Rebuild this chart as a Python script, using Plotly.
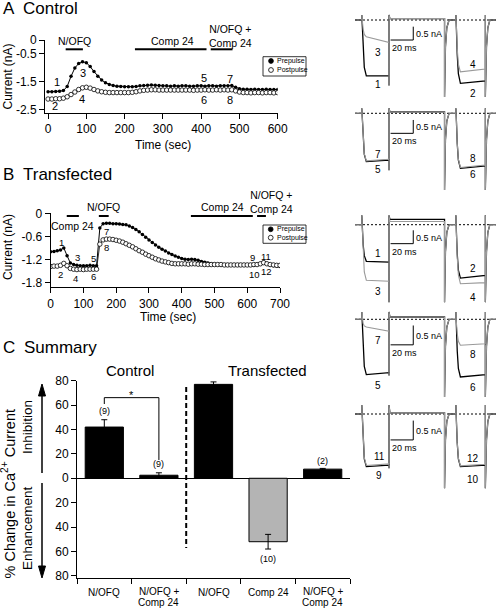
import plotly.graph_objects as go

# ---------------- Panel A data (Control) ----------------
TIME_A = list(range(0, 601, 10))
PRE_A = [
    -1.85, -1.85, -1.84, -1.83, -1.81,
    -1.66, -1.30, -1.00, -0.84, -0.78,
    -0.81, -0.95, -1.13, -1.30, -1.43,
    -1.53, -1.59, -1.63, -1.65, -1.66,
    -1.67, -1.67, -1.67, -1.66, -1.64,
    -1.63, -1.62, -1.61, -1.62, -1.63,
    -1.64, -1.64, -1.65, -1.64, -1.65,
    -1.64, -1.64, -1.65, -1.65, -1.64,
    -1.64, -1.65, -1.64, -1.64, -1.65,
    -1.64, -1.64, -1.64, -1.63, -1.69,
    -1.74, -1.76, -1.76, -1.77, -1.76,
    -1.77, -1.77, -1.76, -1.77, -1.77,
    -1.77]
POST_A = [
    -2.11, -2.11, -2.10, -2.10, -2.08,
    -2.03, -1.95, -1.86, -1.77, -1.71,
    -1.69, -1.72, -1.77, -1.82, -1.85,
    -1.87, -1.88, -1.88, -1.88, -1.88,
    -1.88, -1.88, -1.87, -1.85, -1.82,
    -1.80, -1.79, -1.78, -1.78, -1.79,
    -1.79, -1.79, -1.79, -1.79, -1.79,
    -1.79, -1.79, -1.79, -1.80, -1.79,
    -1.79, -1.78, -1.79, -1.79, -1.78,
    -1.79, -1.78, -1.79, -1.78, -1.82,
    -1.86, -1.88, -1.88, -1.89, -1.88,
    -1.88, -1.89, -1.88, -1.88, -1.89,
    -1.88]
A_TICKS_X = [0, 100, 200, 300, 400, 500, 600]
A_TICKS_Y = [0, -0.5, -1.5, -2.5]

# ---------------- Panel B data (Transfected) ----------------
TIME_B = list(range(0, 701, 10))
PRE_B = [
    -1.00, -0.99, -0.97, -0.95, -0.90,
    -1.10, -1.29, -1.33, -1.35, -1.36,
    -1.36, -1.36, -1.35, -1.36, -1.36,
    -0.38, -0.27, -0.26, -0.26, -0.27,
    -0.27, -0.28, -0.29, -0.30, -0.33,
    -0.37, -0.42, -0.48, -0.55, -0.62,
    -0.69, -0.76, -0.82, -0.88, -0.93,
    -0.98, -1.03, -1.07, -1.11, -1.14,
    -1.17, -1.19, -1.20, -1.19, -1.20,
    -1.22, -1.25, -1.27, -1.29, -1.31,
    -1.32, -1.33, -1.34, -1.35, -1.35,
    -1.35, -1.35, -1.35, -1.35, -1.35,
    -1.35, -1.35, -1.35, -1.33, -1.30,
    -1.27, -1.30, -1.34, -1.36, -1.37,
    -1.38]
POST_B = [
    -1.38, -1.37, -1.37, -1.35, -1.30,
    -1.36, -1.43, -1.45, -1.46, -1.45,
    -1.46, -1.45, -1.45, -1.45, -1.45,
    -0.80, -0.69, -0.67, -0.67, -0.68,
    -0.70, -0.72, -0.75, -0.79, -0.83,
    -0.87, -0.92, -0.97, -1.01, -1.06,
    -1.10, -1.14, -1.18, -1.21, -1.24,
    -1.26, -1.28, -1.30, -1.31, -1.31,
    -1.31, -1.31, -1.32, -1.31, -1.31,
    -1.32, -1.32, -1.33, -1.33, -1.33,
    -1.33, -1.33, -1.33, -1.34, -1.34,
    -1.34, -1.34, -1.34, -1.34, -1.34,
    -1.34, -1.34, -1.33, -1.33, -1.31,
    -1.28, -1.31, -1.33, -1.34, -1.35,
    -1.35]
B_TICKS_X = [0, 100, 200, 300, 400, 500, 600, 700]
B_TICKS_Y = [0, -0.6, -1.2, -1.8]

# ---------------- Panel C data (Summary) ----------------
C_LABELS = [["N/OFQ"], ["N/OFQ +", "Comp 24"], ["N/OFQ"], ["Comp 24"], ["N/OFQ +", "Comp 24"]]
C_VALUES = [42, 2.5, 77, -52, 7.5]
C_ERRORS = [6, 2, 2, 6, 0.6]
C_COLORS = ["black", "black", "black", "#b4b4b4", "black"]
C_N = ["(9)", "(9)", "(9)", "(10)", "(2)"]
C_N_POS = [55.2, 11.5, 85.5, -66.2, 14.2]
C_TICKS = [80, 60, 40, 20, 0, -20, -40, -60, -80]
C_TICKTEXT = ["80", "60", "40", "20", "0", "20", "40", "60", "80"]

# ---------------- Inset current records (time ms, current nA) ----------------
T_MS = [0, 6, 6, 6.5, 7.2, 8.2, 10, 30, 30, 30, 30.8, 79, 79, 79.8, 81, 83,
        89, 89, 89.5, 90.2, 91.2, 93, 115, 115, 115, 116, 117.2, 119, 124.4]
INS1_BLACK = [0, 0, 0.19, -0.31, -1.15, -1.78, -2.09, -2.09, -2.45, 0.19, 0.05, 0.05, -2.88, -1.01, -0.29, 0,
              0, 0.19, -0.36, -1.30, -2.01, -2.37, -2.28, 0.19, -2.88, -1.01, -0.29, 0, 0]
INS1_GRAY = [0, 0, 0.19, -0.09, -0.35, -0.54, -0.63, -0.84, -2.45, 0.19, 0.05, 0.05, -2.88, -1.01, -0.29, 0,
             0, 0.19, -0.29, -1.07, -1.65, -1.94, -1.84, 0.19, -2.88, -1.01, -0.29, 0, 0]
INS2_BLACK = [0, 0, 0.19, -0.27, -1.00, -1.54, -1.81, -1.75, -2.13, 0.19, 0.05, 0.05, -2.87, -1.00, -0.29, 0,
              0, 0.19, -0.31, -1.13, -1.75, -2.06, -1.97, 0.19, -2.87, -1.00, -0.29, 0, 0]
INS2_GRAY = [0, 0, 0.19, -0.27, -0.98, -1.51, -1.78, -1.72, -2.13, 0.19, 0.05, 0.05, -2.87, -1.00, -0.29, 0,
             0, 0.19, -0.30, -1.12, -1.73, -2.03, -1.94, 0.19, -2.87, -1.00, -0.29, 0, 0]
INS3_BLACK = [0, 0, 0.35, -0.21, -0.75, -1.16, -1.37, -1.40, -2.90, 0.35, 0.20, 0.20, -2.90, -1.02, -0.29, 0,
              0, 0.35, -0.30, -1.10, -1.70, -2.00, -1.90, 0.35, -2.90, -1.02, -0.29, 0, 0]
INS3_GRAY = [0, 0, 0.35, -0.31, -1.14, -1.77, -2.08, -2.12, -2.90, 0.35, 0.12, 0.12, -2.90, -1.02, -0.29, 0,
             0, 0.35, -0.33, -1.22, -1.88, -2.21, -2.17, 0.35, -2.90, -1.02, -0.29, 0, 0]
INS4_BLACK = [0, 0, 0.19, -0.21, -0.79, -1.22, -1.43, -1.38, -1.45, 0.19, 0.06, 0.06, -2.01, -0.70, -0.20, 0,
              0, 0.19, -0.22, -0.82, -1.27, -1.49, -1.43, 0.19, -2.01, -0.70, -0.20, 0, 0]
INS4_GRAY = [0, 0, 0.19, -0.03, -0.11, -0.17, -0.20, -0.31, -1.45, 0.19, 0.06, 0.06, -2.01, -0.70, -0.20, 0,
             0, 0.19, -0.10, -0.37, -0.57, -0.67, -0.63, 0.19, -2.01, -0.70, -0.20, 0, 0]
INS5_BLACK = [0, 0, 0.23, -0.20, -0.75, -1.16, -1.36, -1.32, -1.40, 0.23, 0.03, 0.03, -1.92, -0.67, -0.19, 0,
              0, 0.23, -0.20, -0.75, -1.16, -1.36, -1.32, 0.23, -1.92, -0.67, -0.19, 0, 0]
INS5_GRAY = [0, 0, 0.23, -0.20, -0.73, -1.13, -1.33, -1.29, -1.40, 0.23, 0.03, 0.03, -1.92, -0.67, -0.19, 0,
             0, 0.23, -0.20, -0.74, -1.14, -1.34, -1.30, 0.23, -1.92, -0.67, -0.19, 0, 0]

# ---------------- geometry helpers ----------------
W, H = 496, 608
FONT = "Liberation Sans, Arial, sans-serif"


def PX(x):
    return x / W


def PY(y):
    return 1 - y / H


fig = go.Figure()
annotations = []
shapes = []


def ann(text, x, y, size=11, xref="paper", yref="paper", xanchor="center",
        yanchor="middle", angle=0, ypaper_raw=False):
    if xref == "paper":
        x = PX(x)
    if yref == "paper" and not ypaper_raw:
        y = PY(y)
    annotations.append(dict(text=text, x=x, y=y, xref=xref, yref=yref,
                            xanchor=xanchor, yanchor=yanchor, showarrow=False,
                            textangle=angle, borderpad=0,
                            font=dict(size=size, color="black", family=FONT)))


AXIS_COMMON = dict(showline=True, linecolor="black", linewidth=1, ticks="outside",
                   ticklen=5, tickcolor="black", tickwidth=1, showgrid=False,
                   zeroline=False, tickfont=dict(size=12, color="black", family=FONT))

# ---------------- Panel A ----------------
fig.add_trace(go.Scatter(x=TIME_A, y=PRE_A, xaxis="x", yaxis="y", mode="lines+markers",
                         line=dict(color="black", width=1),
                         marker=dict(symbol="circle", size=3.5, color="black"), showlegend=False))
fig.add_trace(go.Scatter(x=TIME_A, y=POST_A, xaxis="x", yaxis="y", mode="lines+markers",
                         line=dict(color="black", width=0.8),
                         marker=dict(symbol="circle", size=4.5, color="white",
                                     line=dict(color="black", width=0.8)), showlegend=False))

# ---------------- Panel B ----------------
fig.add_trace(go.Scatter(x=TIME_B, y=PRE_B, xaxis="x2", yaxis="y2", mode="lines+markers",
                         line=dict(color="black", width=1),
                         marker=dict(symbol="circle", size=3.5, color="black"), showlegend=False))
fig.add_trace(go.Scatter(x=TIME_B, y=POST_B, xaxis="x2", yaxis="y2", mode="lines+markers",
                         line=dict(color="black", width=0.8),
                         marker=dict(symbol="circle", size=4.5, color="white",
                                     line=dict(color="black", width=0.8)), showlegend=False))

# ---------------- Panel C ----------------
C_X = [i + 0.5 for i in range(len(C_VALUES))]
fig.add_trace(go.Bar(x=C_X, y=C_VALUES, width=0.7, xaxis="x3", yaxis="y3",
                     marker=dict(color=C_COLORS, line=dict(color="black", width=1)),
                     error_y=dict(type="data", array=C_ERRORS, color="black", thickness=1, width=3),
                     showlegend=False))

# ---------------- Insets ----------------
INSET_GROUPS = [
    (INS1_BLACK, INS1_GRAY, 20.0, 26.7),
    (INS2_BLACK, INS2_GRAY, 113.3, 26.7),
    (INS3_BLACK, INS3_GRAY, 224.7, 26.7),
    (INS4_BLACK, INS4_GRAY, 319.3, 38.7),
    (INS5_BLACK, INS5_GRAY, 414.0, 38.7),
]
INSET_LABELS = [
    [("3", 20.6, -1.21), ("1", 20.6, -2.43), ("4", 104.4, -1.66), ("2", 104.4, -2.75)],
    [("7", 20.6, -1.54), ("5", 20.6, -2.09), ("8", 104.4, -1.71), ("6", 104.4, -2.28)],
    [("1", 20.6, -1.09), ("3", 20.6, -2.52), ("2", 104.4, -1.65), ("4", 104.4, -2.71)],
    [("7", 20.6, -0.54), ("5", 20.6, -1.71), ("8", 104.4, -0.91), ("6", 104.4, -1.77)],
    [("11", 21.5, -1.10), ("9", 21.5, -1.60), ("12", 104.4, -1.14), ("10", 104.4, -1.69)],
]
SCALE_BOTTOM = [-0.75, -0.75, -0.71, -0.66, -0.67]

layout_axes = {}
for g, (blk, gry, base, s) in enumerate(INSET_GROUPS):
    n = 4 + g
    xa, ya = f"x{n}", f"y{n}"
    fig.add_trace(go.Scatter(x=[T_MS[0], T_MS[-1]], y=[0, 0], xaxis=xa, yaxis=ya, mode="lines",
                             line=dict(color="black", width=1, dash="2px,2px"), showlegend=False))
    fig.add_trace(go.Scatter(x=T_MS, y=blk, xaxis=xa, yaxis=ya, mode="lines",
                             line=dict(color="black", width=1.3), showlegend=False))
    fig.add_trace(go.Scatter(x=T_MS, y=gry, xaxis=xa, yaxis=ya, mode="lines",
                             line=dict(color="#9a9a9a", width=1.1), showlegend=False))
    layout_axes[f"xaxis{n}"] = dict(domain=[PX(355), 1.0], range=[0, 124.4], anchor=ya, visible=False)
    layout_axes[f"yaxis{n}"] = dict(domain=[PY(base + 80), PY(base - 10)], range=[-80 / s, 10 / s],
                                    anchor=xa, visible=False)
    yb = SCALE_BOTTOM[g]
    shapes.append(dict(type="line", xref=xa, yref=ya, x0=51.4, x1=51.4, y0=yb, y1=yb + 0.5,
                       line=dict(color="black", width=1)))
    shapes.append(dict(type="line", xref=xa, yref=ya, x0=31.4, x1=51.4, y0=yb, y1=yb,
                       line=dict(color="black", width=1)))
    ann("0.5 nA", 52.9, yb + 0.22, size=9, xref=xa, yref=ya, xanchor="left")
    ann("20 ms", 31.4, yb - 8 / s, size=9, xref=xa, yref=ya, xanchor="left")
    for (txt, tx, ty) in INSET_LABELS[g]:
        ann(txt, tx, ty, size=10, xref=xa, yref=ya)

# ---------------- Panel titles ----------------
ann("A", 2, 8.5, size=17, xanchor="left")
ann("Control", 22, 8.5, size=17, xanchor="left")
ann("B", 2, 175, size=17, xanchor="left")
ann("Transfected", 22, 175, size=17, xanchor="left")
ann("C", 2, 347, size=17, xanchor="left")
ann("Summary", 23, 347, size=17, xanchor="left")

# ---------------- Panel A decorations ----------------
ann("Current (nA)", 7.5, 77, size=12, angle=-90)
ann("Time (sec)", 163, 145, size=12)
for (t0, t1) in [(46, 91), (227, 414), (425, 482)]:
    shapes.append(dict(type="line", xref="x", yref="paper", x0=t0, x1=t1, y0=PY(49.3), y1=PY(49.3),
                       line=dict(color="black", width=2)))
for (txt, tx, yy) in [("N/OFQ", 70, 41.5), ("Comp 24", 326, 41.5), ("N/OFQ +<br>Comp 24", 477, 35.5)]:
    ann(txt, tx, PY(yy), size=10.5, xref="x", yref="paper", ypaper_raw=True)
for (txt, tx, ty) in [("1", 23, -1.5), ("2", 18, -2.36), ("3", 91, -1.18), ("4", 89, -2.11),
                      ("5", 407, -1.36), ("6", 407, -2.14), ("7", 475, -1.39), ("8", 475, -2.14)]:
    ann(txt, tx, ty, size=11, xref="x", yref="y")


def legend_box(y0, y1, ysym1, ysym2, xsym, xtext):
    shapes.append(dict(type="rect", xref="paper", yref="paper", x0=PX(263), x1=PX(306),
                       y0=PY(y1), y1=PY(y0), line=dict(color="black", width=0.8), fillcolor="white"))
    r = 2.4
    shapes.append(dict(type="circle", xref="paper", yref="paper", x0=PX(xsym - r), x1=PX(xsym + r),
                       y0=PY(ysym1 + r), y1=PY(ysym1 - r), fillcolor="black", line=dict(color="black", width=0.8)))
    shapes.append(dict(type="circle", xref="paper", yref="paper", x0=PX(xsym - r), x1=PX(xsym + r),
                       y0=PY(ysym2 + r), y1=PY(ysym2 - r), fillcolor="white", line=dict(color="black", width=0.8)))
    ann("Prepulse", xtext, ysym1, size=7, xanchor="left")
    ann("Postpulse", xtext, ysym2, size=7, xanchor="left")


legend_box(56.7, 76, 61, 70, 271, 275.5)

# ---------------- Panel B decorations ----------------
ann("Current (nA)", 7.5, 247.5, size=12, angle=-90)
ann("Time (sec)", 168, 317, size=12)
for (t0, t1) in [(49, 86), (147, 177), (428, 617), (630, 657)]:
    shapes.append(dict(type="line", xref="x2", yref="paper", x0=t0, x1=t1, y0=PY(216), y1=PY(216),
                       line=dict(color="black", width=2)))
for (txt, tx, yy) in [("Comp 24", 67, 226), ("N/OFQ", 162, 207.5), ("Comp 24", 523, 207.5),
                      ("N/OFQ +<br>Comp 24", 673, 201.5)]:
    ann(txt, tx, PY(yy), size=10.5, xref="x2", yref="paper", ypaper_raw=True)
for (txt, tx, ty) in [("1", 33.6, -0.75), ("2", 30.6, -1.58), ("3", 82.5, -1.14), ("4", 76.4, -1.68),
                      ("5", 131.5, -1.16), ("6", 131.5, -1.65), ("7", 171, -0.46), ("8", 171, -0.90),
                      ("9", 617.5, -1.14), ("10", 623.6, -1.58), ("11", 657, -1.11), ("12", 660, -1.52)]:
    ann(txt, tx, ty, size=9.5, xref="x2", yref="y2")
legend_box(225, 243.3, 229.3, 237.7, 270.7, 275.5)

# ---------------- Panel C decorations ----------------
ann("Control", 130, 370, size=15)
ann("Transfected", 267, 370, size=15)
ann("% Change in Ca<sup>2+</sup> Current", 8.5, 494, size=14.5, angle=-90)
ann("Inhibition", 27, 427, size=13.5, angle=-90)
ann("Enhancement", 27, 528, size=13.5, angle=-90)
for i, lines in enumerate(C_LABELS):
    ys = [592] if len(lines) == 1 else [591.7, 602.3]
    for line_txt, yy in zip(lines, ys):
        ann(line_txt, C_X[i], PY(yy), size=10, xref="x3", yref="paper", ypaper_raw=True)
for i, lab in enumerate(C_N):
    ann(lab, C_X[i], C_N_POS[i], size=9, xref="x3", yref="y3")
ann("*", 1.0, 68.5, size=11, xref="x3", yref="y3")
shapes.append(dict(type="path", xref="x3", yref="y3", path="M0.5,60.9 L0.5,66.1 L1.5,66.1 L1.5,15",
                   line=dict(color="black", width=1)))
shapes.append(dict(type="line", xref="x3", yref="y3", x0=2, x1=2, y0=74.8, y1=-57.2,
                   line=dict(color="black", width=2, dash="5px,3px")))
# axis arrows (Inhibition up / Enhancement down)
shapes.append(dict(type="line", xref="paper", yref="paper", x0=PX(42), x1=PX(42), y0=PY(473), y1=PY(394),
                   line=dict(color="black", width=1.5)))
shapes.append(dict(type="path", xref="paper", yref="paper",
                   path=f"M{PX(38.5)},{PY(396)} L{PX(42)},{PY(384)} L{PX(45.5)},{PY(396)} Z",
                   fillcolor="black", line=dict(color="black", width=1)))
shapes.append(dict(type="line", xref="paper", yref="paper", x0=PX(42), x1=PX(42), y0=PY(483), y1=PY(568),
                   line=dict(color="black", width=1.5)))
shapes.append(dict(type="path", xref="paper", yref="paper",
                   path=f"M{PX(38.5)},{PY(566)} L{PX(42)},{PY(578)} L{PX(45.5)},{PY(566)} Z",
                   fillcolor="black", line=dict(color="black", width=1)))

# ---------------- layout ----------------
fig.update_layout(
    width=W, height=H, autosize=False,
    margin=dict(l=0, r=0, t=0, b=0, pad=0),
    template="none",
    paper_bgcolor="white", plot_bgcolor="rgba(0,0,0,0)",
    font=dict(family=FONT, color="black"),
    showlegend=False,
    bargap=0,
    hovermode=False,
    xaxis=dict(domain=[PX(45), PX(277.7)], range=[-8, 600], anchor="y",
               tickvals=A_TICKS_X, **AXIS_COMMON),
    yaxis=dict(domain=[PY(113), PY(40)], range=[-2.61, 0], anchor="x",
               tickvals=A_TICKS_Y, ticktext=["0", "-0.5", "-1.5", "-2.5"], **AXIS_COMMON),
    xaxis2=dict(domain=[PX(50.7), PX(280)], range=[0, 700], anchor="y2",
                tickvals=B_TICKS_X, **AXIS_COMMON),
    yaxis2=dict(domain=[PY(287.3), PY(213.3)], range=[-1.92, 0], anchor="x2",
                tickvals=B_TICKS_Y, ticktext=["0", "-0.6", "-1.2", "-1.8"], **AXIS_COMMON),
    xaxis3=dict(domain=[PX(77), PX(350)], range=[0, 5], anchor="y3",
                tickvals=[0, 1, 2, 3, 4, 5], showticklabels=False,
                **{k: v for k, v in AXIS_COMMON.items() if k != "tickfont"}),
    yaxis3=dict(domain=[PY(578.3), PY(380.7)], range=[-82, 80], anchor="x3",
                tickvals=C_TICKS, ticktext=C_TICKTEXT,
                **{k: v for k, v in AXIS_COMMON.items() if k != "zeroline"},
                zeroline=True, zerolinecolor="black", zerolinewidth=1),
    annotations=annotations,
    shapes=shapes,
    **layout_axes,
)

fig.write_html("out.html", config={"displayModeBar": False, "staticPlot": True},
               post_script="document.body.style.margin='0px';document.body.style.overflow='hidden';")
